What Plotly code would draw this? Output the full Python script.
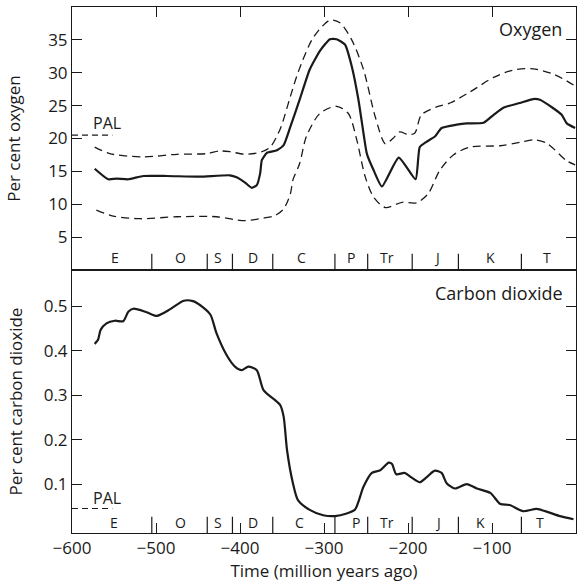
import plotly.graph_objects as go
from plotly.subplots import make_subplots

# ---------------- data ----------------
o2_years = [-573, -557, -547, -533, -515, -487, -448, -412, -404, -394, -386, -380, -376, -374, -368,
            -356, -348, -340, -329, -317, -305, -293, -285, -275, -267, -259, -253, -249, -241, -231,
            -211, -191, -186, -178, -168, -160, -142, -130, -110, -98, -86, -67, -51, -43, -27, -17, -11, -1]
o2_mid = [15.4, 13.8, 13.9, 13.8, 14.3, 14.3, 14.2, 14.4, 14.1, 13.3, 12.5, 12.9, 14.7, 16.7, 17.8,
          18.2, 19.0, 21.8, 25.9, 30.5, 33.3, 35.1, 35.1, 34.3, 31.0, 25.9, 20.8, 17.7, 15.2, 12.7,
          17.1, 13.8, 18.7, 19.5, 20.3, 21.6, 22.1, 22.3, 22.4, 23.6, 24.7, 25.4, 26.0, 25.9, 24.6, 23.6, 22.3, 21.6]

o2_hi_years = [-573, -555, -515, -475, -440, -424, -412, -394, -376, -364, -352, -340, -331, -313, -293,
               -281, -267, -253, -239, -227, -218, -210, -200, -192, -184, -166, -150, -126, -98, -75, -51, -27, -1]
o2_hi = [18.7, 17.7, 17.2, 17.6, 17.7, 18.1, 18.0, 17.6, 17.9, 18.7, 21.5, 26.4, 30.0, 35.3, 38.0,
         37.6, 35.0, 30.5, 23.3, 19.2, 20.0, 21.0, 20.6, 20.8, 23.6, 24.8, 25.4, 27.1, 29.3, 30.4, 30.6, 29.8, 28.0]

o2_lo_years = [-571, -551, -519, -475, -428, -408, -394, -372, -358, -348, -340, -337, -329, -321, -305,
               -285, -271, -261, -251, -241, -227, -207, -190, -176, -162, -146, -126, -90, -67, -51, -35, -11, -1]
o2_lo = [9.1, 8.2, 7.8, 8.1, 8.1, 7.7, 7.5, 7.9, 8.3, 9.3, 11.6, 13.7, 16.2, 20.3, 23.8,
         24.9, 23.8, 19.8, 14.2, 11.1, 9.5, 10.3, 10.2, 11.6, 15.2, 17.5, 18.7, 18.9, 19.4, 19.8, 19.3, 16.6, 16.0]

co2_years = [-573, -569, -566, -559, -549, -539, -533, -527, -511, -499, -483, -467, -456, -444, -435,
             -428, -416, -406, -398, -390, -380, -372, -356, -352, -348, -344, -337, -331, -317, -301,
             -287, -273, -263, -253, -243, -233, -223, -219, -214, -204, -196, -186, -178, -168, -160,
             -154, -144, -130, -118, -102, -90, -79, -63, -47, -35, -19, -3]
co2 = [0.415, 0.424, 0.446, 0.461, 0.467, 0.466, 0.487, 0.494, 0.486, 0.478, 0.493, 0.512, 0.511, 0.497, 0.480,
       0.439, 0.390, 0.364, 0.356, 0.364, 0.356, 0.311, 0.285, 0.277, 0.251, 0.176, 0.102, 0.064, 0.042, 0.030,
       0.028, 0.034, 0.043, 0.094, 0.125, 0.131, 0.148, 0.145, 0.122, 0.125, 0.115, 0.104, 0.115, 0.130, 0.125,
       0.102, 0.090, 0.100, 0.090, 0.080, 0.055, 0.053, 0.039, 0.044, 0.038, 0.028, 0.021]

period_bounds = [-505, -439, -409, -361, -287, -248, -195, -140, -65]
period_labels = ["E", "O", "S", "D", "C", "P", "Tr", "J", "K", "T"]
period_x_top = [-549, -471, -426, -385, -327, -268, -225, -166, -102, -35]
period_x_bottom = [-550, -471, -426, -385, -329, -262, -225, -164, -114, -43]

pal_x = [-600, -552]
pal_o2 = 20.5
pal_co2 = 0.045

x_ticks = [-600, -500, -400, -300, -200, -100, 0]
x_tick_text = ["\u2212600", "\u2212500", "\u2212400", "\u2212300", "\u2212200", "\u2212100", "0"]
o2_ticks = [5, 10, 15, 20, 25, 30, 35]
co2_ticks = [0.1, 0.2, 0.3, 0.4, 0.5]

# ---------------- figure ----------------
FONT = "Open Sans"
INK = "#1a1a1a"

fig = make_subplots(rows=2, cols=1, shared_xaxes=True, vertical_spacing=0)

fig.add_trace(go.Scatter(x=o2_hi_years, y=o2_hi, mode="lines",
                         line=dict(color=INK, width=1.3, dash="8px,5px", shape="spline", smoothing=0.8),
                         showlegend=False, hoverinfo="skip"), row=1, col=1)
fig.add_trace(go.Scatter(x=o2_lo_years, y=o2_lo, mode="lines",
                         line=dict(color=INK, width=1.3, dash="8px,5px", shape="spline", smoothing=0.8),
                         showlegend=False, hoverinfo="skip"), row=1, col=1)
fig.add_trace(go.Scatter(x=o2_years, y=o2_mid, mode="lines",
                         line=dict(color=INK, width=2.2, shape="spline", smoothing=0.5),
                         showlegend=False), row=1, col=1)
fig.add_trace(go.Scatter(x=pal_x, y=[pal_o2, pal_o2], mode="lines",
                         line=dict(color=INK, width=1.2, dash="6px,4px"),
                         showlegend=False, hoverinfo="skip"), row=1, col=1)

fig.add_trace(go.Scatter(x=co2_years, y=co2, mode="lines",
                         line=dict(color=INK, width=2.2, shape="spline", smoothing=0.7),
                         showlegend=False), row=2, col=1)
fig.add_trace(go.Scatter(x=pal_x, y=[pal_co2, pal_co2], mode="lines",
                         line=dict(color=INK, width=1.2, dash="6px,4px"),
                         showlegend=False, hoverinfo="skip"), row=2, col=1)

# period separators and labels
shapes = []
annotations = []
for b in period_bounds:
    for yref in ("y domain", "y2 domain"):
        shapes.append(dict(type="line", xref="x", yref=yref, x0=b, x1=b, y0=0, y1=0.062,
                           line=dict(color=INK, width=1.2)))
for lab, xt, xb in zip(period_labels, period_x_top, period_x_bottom):
    annotations.append(dict(x=xt, y=0.048, xref="x", yref="y domain", text=lab, showarrow=False,
                            font=dict(family=FONT, size=14, color=INK), yanchor="middle"))
    annotations.append(dict(x=xb, y=0.04, xref="x", yref="y2 domain", text=lab, showarrow=False,
                            font=dict(family=FONT, size=14, color=INK), yanchor="middle"))

annotations.append(dict(x=-577, y=pal_o2 + 1.8, xref="x", yref="y", text="PAL", showarrow=False,
                        xanchor="left", yanchor="middle", font=dict(family=FONT, size=16, color=INK)))
annotations.append(dict(x=-577, y=pal_co2 + 0.024, xref="x", yref="y2", text="PAL", showarrow=False,
                        xanchor="left", yanchor="middle", font=dict(family=FONT, size=16, color=INK)))
annotations.append(dict(x=0.976, y=0.915, xref="x domain", yref="y domain", text="Oxygen", showarrow=False,
                        xanchor="right", yanchor="middle", font=dict(family=FONT, size=18, color=INK)))
annotations.append(dict(x=0.978, y=0.914, xref="x domain", yref="y2 domain", text="Carbon dioxide",
                        showarrow=False, xanchor="right", yanchor="middle",
                        font=dict(family=FONT, size=18, color=INK)))

axis_common = dict(showline=True, linecolor=INK, linewidth=1, ticks="inside", ticklen=10,
                   tickcolor=INK, tickwidth=1, showgrid=False, zeroline=False,
                   tickfont=dict(family=FONT, size=17, color=INK))

fig.update_xaxes(range=[-600, 0], tickvals=x_ticks, ticktext=x_tick_text, **axis_common)
fig.update_xaxes(row=1, col=1, side="top", showticklabels=False, mirror=True)
fig.update_xaxes(row=2, col=1, mirror=True,
                 title=dict(text="Time (million years ago)", font=dict(family=FONT, size=17, color=INK),
                            standoff=6))

fig.update_yaxes(row=1, col=1, range=[0, 40], tickvals=o2_ticks, mirror="ticks",
                 title=dict(text="Per cent oxygen", font=dict(family=FONT, size=17, color=INK), standoff=23),
                 **axis_common)
fig.update_yaxes(row=2, col=1, range=[-0.01, 0.581], tickvals=co2_ticks, mirror="ticks",
                 title=dict(text="Per cent carbon dioxide", font=dict(family=FONT, size=17, color=INK),
                            standoff=16),
                 **axis_common)

fig.update_layout(width=578, height=586, margin=dict(l=72, r=2, t=7, b=53),
                  paper_bgcolor="white", plot_bgcolor="white",
                  shapes=shapes, annotations=annotations,
                  font=dict(family=FONT, color=INK))

fig.write_html("out.html")
